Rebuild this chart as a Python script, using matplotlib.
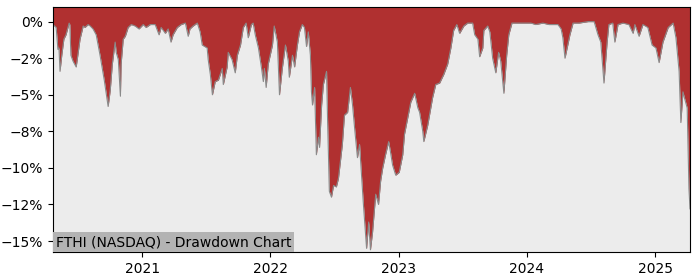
import matplotlib
matplotlib.use('Agg')
import matplotlib.pyplot as plt
import matplotlib.dates as mdates
from matplotlib.ticker import FuncFormatter
import pandas as pd

# drawdown (%), by date
dates = ['2020-04-22', '2020-05-01', '2020-05-06', '2020-05-09', '2020-05-12', '2020-05-17',
         '2020-05-23', '2020-05-29', '2020-06-07', '2020-06-09', '2020-06-12', '2020-06-18',
         '2020-06-27', '2020-06-30', '2020-07-08', '2020-07-17', '2020-07-22', '2020-07-31',
         '2020-08-06', '2020-08-14', '2020-08-23', '2020-09-03', '2020-09-15', '2020-09-26',
         '2020-10-02', '2020-10-08', '2020-10-16', '2020-10-19', '2020-10-25', '2020-10-31',
         '2020-11-02', '2020-11-08', '2020-11-14', '2020-11-22', '2020-12-01', '2020-12-12',
         '2020-12-23', '2021-01-04', '2021-01-12', '2021-01-24', '2021-02-07', '2021-02-18',
         '2021-02-24', '2021-03-08', '2021-03-16', '2021-03-24', '2021-03-30', '2021-04-11',
         '2021-04-22', '2021-05-04', '2021-05-12', '2021-05-17', '2021-05-26', '2021-06-07',
         '2021-06-15', '2021-06-21', '2021-07-05', '2021-07-08', '2021-07-14', '2021-07-20',
         '2021-07-28', '2021-08-06', '2021-08-17', '2021-08-20', '2021-08-31', '2021-09-03',
         '2021-09-14', '2021-09-23', '2021-09-29', '2021-10-08', '2021-10-16', '2021-10-24',
         '2021-10-30', '2021-11-08', '2021-11-13', '2021-11-19', '2021-11-28', '2021-12-07',
         '2021-12-12', '2021-12-15', '2021-12-20', '2021-12-26', '2022-01-07', '2022-01-12',
         '2022-01-21', '2022-01-27', '2022-02-04', '2022-02-13', '2022-02-21', '2022-02-24',
         '2022-03-05', '2022-03-11', '2022-03-19', '2022-03-25', '2022-04-02', '2022-04-08',
         '2022-04-14', '2022-04-19', '2022-04-25', '2022-04-28', '2022-05-01', '2022-05-07',
         '2022-05-12', '2022-05-18', '2022-05-21', '2022-05-27', '2022-06-01', '2022-06-10',
         '2022-06-13', '2022-06-18', '2022-06-24', '2022-06-30', '2022-07-08', '2022-07-14',
         '2022-07-25', '2022-07-31', '2022-08-09', '2022-08-17', '2022-08-23', '2022-08-29',
         '2022-09-06', '2022-09-12', '2022-09-18', '2022-09-23', '2022-10-02', '2022-10-08',
         '2022-10-13', '2022-10-19', '2022-10-28', '2022-11-05', '2022-11-11', '2022-11-17',
         '2022-11-25', '2022-12-04', '2022-12-09', '2022-12-15', '2022-12-24', '2023-01-03',
         '2023-01-13', '2023-01-18', '2023-01-27', '2023-02-05', '2023-02-16', '2023-02-25',
         '2023-03-02', '2023-03-11', '2023-03-14', '2023-03-25', '2023-04-08', '2023-04-17',
         '2023-04-28', '2023-05-10', '2023-05-21', '2023-05-30', '2023-06-07', '2023-06-16',
         '2023-06-24', '2023-07-06', '2023-07-17', '2023-07-31', '2023-08-06', '2023-08-15',
         '2023-08-20', '2023-08-29', '2023-09-01', '2023-09-12', '2023-09-18', '2023-09-26',
         '2023-10-05', '2023-10-13', '2023-10-19', '2023-10-28', '2023-11-05', '2023-11-11',
         '2023-11-20', '2023-12-15', '2023-12-29', '2024-01-13', '2024-01-27', '2024-02-16',
         '2024-03-04', '2024-03-30', '2024-04-08', '2024-04-13', '2024-04-19', '2024-04-27',
         '2024-05-03', '2024-05-12', '2024-05-29', '2024-06-24', '2024-07-11', '2024-07-22',
         '2024-07-30', '2024-08-08', '2024-08-17', '2024-08-22', '2024-09-02', '2024-09-08',
         '2024-09-17', '2024-10-01', '2024-10-18', '2024-10-30', '2024-11-04', '2024-11-16',
         '2024-11-27', '2024-12-11', '2024-12-23', '2025-01-03', '2025-01-12', '2025-01-23',
         '2025-02-07', '2025-02-21', '2025-03-01', '2025-03-10', '2025-03-15', '2025-03-21',
         '2025-03-24', '2025-04-02', '2025-04-07', '2025-04-10']

drawdown = [-0.2, -0.4, -1.9, -1.8, -3.4, -2.3,
            -1.2, -0.9, -0.1, -0.2, -2.3, -2.7,
            -3.1, -2.6, -1.2, -0.3, -0.4, -0.2,
            -0.3, -0.5, -0.9, -2.3, -4.0, -5.8,
            -4.7, -2.9, -1.4, -2.1, -2.6, -5.1,
            -2.9, -1.2, -1.0, -0.4, -0.2, -0.3,
            -0.5, -0.2, -0.4, -0.2, -0.2, -0.9,
            -0.4, -0.8, -0.5, -1.4, -0.9, -0.4,
            -0.2, -0.1, -1.0, -0.5, -0.3, -0.1,
            -0.7, -1.6, -1.8, -2.6, -3.6, -5.0,
            -4.1, -4.0, -3.2, -4.3, -3.1, -2.1,
            -2.6, -3.5, -2.3, -1.6, -0.4, -0.1,
            -1.1, -0.2, -0.1, -0.9, -1.8, -3.2,
            -4.1, -3.2, -4.5, -2.9, -1.6, -0.3,
            -1.4, -5.0, -3.2, -1.6, -2.7, -3.8,
            -2.3, -3.1, -1.6, -0.7, -0.2, -0.4,
            -1.7, -0.7, -2.3, -4.8, -5.7, -4.5,
            -9.1, -7.9, -8.6, -5.7, -4.3, -3.4,
            -6.8, -11.6, -12.0, -11.2, -11.3, -10.7,
            -8.4, -6.4, -6.2, -4.5, -5.7, -7.3,
            -9.3, -8.4, -10.7, -12.5, -15.5, -13.7,
            -15.6, -14.4, -11.8, -12.5, -10.9, -10.0,
            -9.1, -8.2, -8.9, -9.8, -10.5, -10.3,
            -9.1, -7.7, -6.6, -5.5, -4.9, -5.9,
            -6.2, -7.5, -8.2, -7.1, -5.2, -4.3,
            -4.2, -3.6, -2.9, -1.8, -0.6, -0.2,
            -0.8, -0.3, -0.1, -0.1, -0.9, -1.2,
            -2.4, -1.8, -0.6, -0.3, -0.7, -2.5,
            -3.5, -2.1, -2.7, -4.9, -2.3, -0.9,
            -0.1, -0.1, -0.1, -0.1, -0.2, -0.1,
            -0.2, -0.2, -0.5, -1.1, -2.5, -1.6,
            -0.9, -0.1, -0.1, -0.0, -0.0, -0.9,
            -1.4, -4.2, -1.4, -0.2, -0.1, -1.4,
            -0.2, -0.1, -0.2, -0.8, -0.2, -1.0,
            -0.2, -0.4, -1.6, -1.8, -2.8, -1.4,
            -0.4, -0.1, -1.1, -3.4, -6.9, -4.8,
            -5.1, -5.9, -11.4, -12.8]

yticks = [0, -2.5, -5, -7.5, -10, -12.5, -15]
title = 'FTHI (NASDAQ) - Drawdown Chart'

x = pd.to_datetime(dates)

fig, ax = plt.subplots(figsize=(7, 2.8), dpi=100)
fig.subplots_adjust(left=0.0757, right=0.9857, top=0.975, bottom=0.1)

ax.set_facecolor('#ececec')
ylo, yhi = -15.75, 1.0
ax.fill_between(x, drawdown, yhi, color='#b03030', linewidth=0)
ax.plot(x, drawdown, color='#8a8a8a', linewidth=0.8)

ax.set_xlim(x[0], x[-1])
ax.set_ylim(ylo, yhi)
ax.set_yticks(yticks)
ax.yaxis.set_major_formatter(FuncFormatter(lambda v, p: f'{v:.0f}%'.replace('-', '\u2212')))
ax.xaxis.set_major_locator(mdates.YearLocator())
ax.xaxis.set_major_formatter(mdates.DateFormatter('%Y'))

ax.text(0.004, 0.012, title, transform=ax.transAxes, fontsize=10,
        ha='left', va='bottom',
        bbox=dict(facecolor='#b3b3b3', edgecolor='none', pad=2))

fig.savefig('out.png', dpi=100)
